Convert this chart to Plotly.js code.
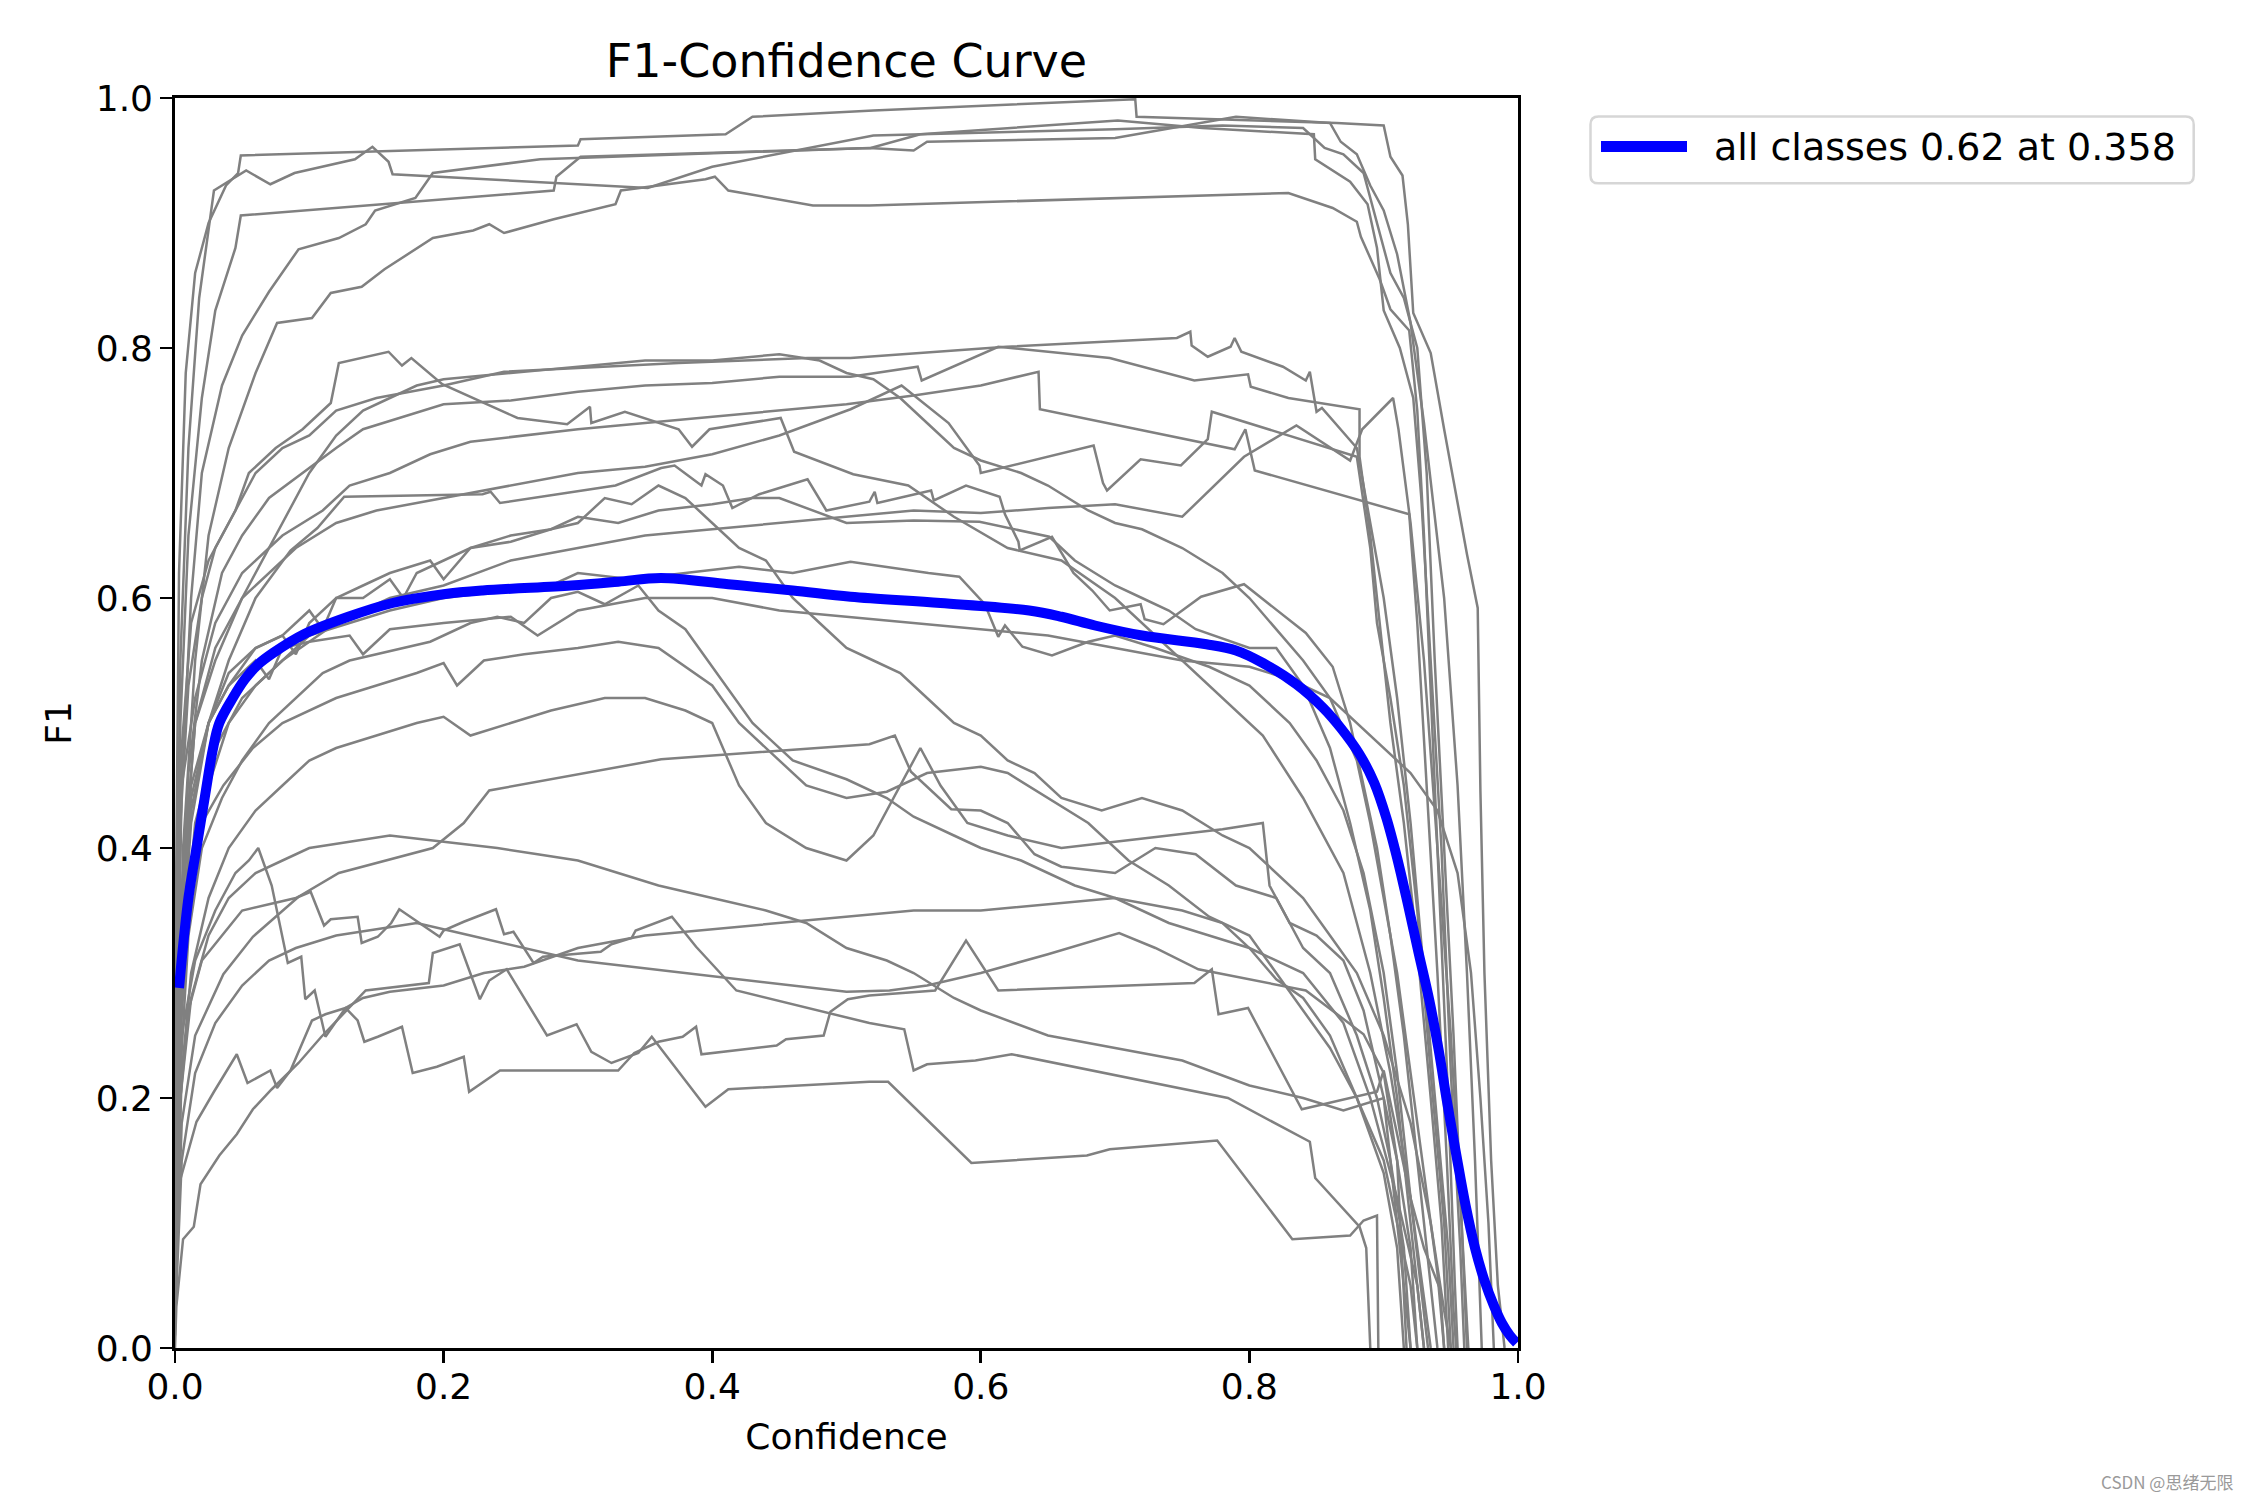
<!DOCTYPE html>
<html>
<head>
<meta charset="utf-8">
<script src="https://cdn.plot.ly/plotly-3.0.1.min.js"></script>
<style>html,body{margin:0;padding:0;background:#fff;}#chart{width:2250px;height:1500px;}</style>
</head>
<body>
<div id="chart"></div>
<script>
// ---------- DATA ----------
const xTickVals = [0, 0.2, 0.4, 0.6, 0.8, 1.0];
const xTickText = ['0.0', '0.2', '0.4', '0.6', '0.8', '1.0'];
const yTickVals = [0, 0.2, 0.4, 0.6, 0.8, 1.0];
const yTickText = ['0.0', '0.2', '0.4', '0.6', '0.8', '1.0'];
const legendLabel = 'all classes 0.62 at 0.358';

// per-class F1 curves: [confidence, F1]
const c01 = [[0,0.28],[0.003,0.62],[0.008,0.78],[0.015,0.86],[0.025,0.9],[0.038,0.93],[0.047,0.94],[0.049,0.954],[0.30,0.962],[0.302,0.967],[0.41,0.971],[0.43,0.985],[0.52,0.99],[0.715,0.999],[0.716,0.985],[0.865,0.980],[0.90,0.978],[0.905,0.953],[0.914,0.938],[0.918,0.899],[0.922,0.828],[0.935,0.796],[0.945,0.735],[0.953,0.688],[0.962,0.635],[0.970,0.592],[0.972,0.446],[0.975,0.3],[0.98,0.15],[0.985,0.05],[0.99,0]];
const c02 = [[0,0.22],[0.004,0.55],[0.01,0.72],[0.018,0.84],[0.029,0.926],[0.053,0.942],[0.071,0.931],[0.089,0.94],[0.134,0.951],[0.147,0.961],[0.159,0.949],[0.162,0.939],[0.352,0.928],[0.40,0.945],[0.52,0.97],[0.70,0.975],[0.78,0.978],[0.84,0.976],[0.856,0.96],[0.87,0.955],[0.885,0.94],[0.895,0.9],[0.905,0.86],[0.915,0.84],[0.925,0.8],[0.932,0.7],[0.938,0.55],[0.945,0.4],[0.952,0.25],[0.958,0.1],[0.962,0]];
const c03 = [[0,0.18],[0.004,0.5],[0.01,0.65],[0.02,0.76],[0.03,0.83],[0.045,0.88],[0.049,0.906],[0.282,0.926],[0.284,0.937],[0.302,0.953],[0.518,0.96],[0.555,0.971],[0.702,0.982],[0.765,0.976],[0.848,0.971],[0.849,0.951],[0.875,0.933],[0.888,0.915],[0.895,0.88],[0.9,0.83],[0.912,0.8],[0.922,0.76],[0.928,0.68],[0.935,0.55],[0.943,0.4],[0.95,0.22],[0.957,0.08],[0.96,0]];
const c04 = [[0,0.15],[0.005,0.45],[0.012,0.6],[0.02,0.7],[0.035,0.77],[0.05,0.81],[0.07,0.845],[0.092,0.879],[0.122,0.888],[0.142,0.899],[0.149,0.910],[0.179,0.920],[0.192,0.940],[0.272,0.951],[0.517,0.960],[0.55,0.958],[0.56,0.965],[0.70,0.968],[0.79,0.985],[0.86,0.98],[0.868,0.965],[0.88,0.955],[0.89,0.93],[0.9,0.91],[0.91,0.875],[0.92,0.82],[0.93,0.74],[0.945,0.6],[0.955,0.45],[0.962,0.3],[0.968,0.15],[0.973,0]];
const c05 = [[0,0.12],[0.006,0.4],[0.015,0.55],[0.025,0.65],[0.04,0.72],[0.06,0.78],[0.076,0.820],[0.102,0.824],[0.116,0.844],[0.139,0.849],[0.156,0.863],[0.192,0.888],[0.222,0.894],[0.234,0.899],[0.245,0.892],[0.282,0.903],[0.328,0.915],[0.332,0.926],[0.395,0.935],[0.402,0.937],[0.412,0.926],[0.475,0.914],[0.517,0.914],[0.829,0.924],[0.862,0.912],[0.880,0.901],[0.883,0.889],[0.897,0.855],[0.905,0.831],[0.919,0.814],[0.925,0.75],[0.93,0.65],[0.936,0.5],[0.942,0.35],[0.948,0.2],[0.953,0.05],[0.955,0]];
const c06 = [[0,0.1],[0.004,0.42],[0.01,0.53],[0.02,0.6],[0.03,0.64],[0.045,0.67],[0.055,0.7],[0.075,0.72],[0.095,0.735],[0.11,0.75],[0.116,0.756],[0.122,0.788],[0.159,0.797],[0.169,0.786],[0.176,0.792],[0.199,0.771],[0.255,0.744],[0.292,0.739],[0.309,0.753],[0.310,0.740],[0.335,0.749],[0.375,0.735],[0.385,0.721],[0.398,0.735],[0.451,0.744],[0.461,0.717],[0.505,0.699],[0.546,0.690],[0.58,0.665],[0.62,0.64],[0.66,0.63],[0.7,0.6],[0.74,0.56],[0.78,0.52],[0.81,0.49],[0.84,0.44],[0.87,0.38],[0.89,0.3],[0.905,0.22],[0.92,0.12],[0.93,0.04],[0.935,0]];
const c07 = [[0,0.2],[0.005,0.48],[0.012,0.58],[0.025,0.63],[0.04,0.66],[0.06,0.7],[0.08,0.72],[0.1,0.73],[0.12,0.75],[0.15,0.76],[0.2,0.77],[0.245,0.781],[0.375,0.788],[0.471,0.792],[0.503,0.792],[0.619,0.801],[0.746,0.808],[0.756,0.813],[0.757,0.802],[0.769,0.793],[0.786,0.801],[0.789,0.808],[0.794,0.797],[0.825,0.785],[0.842,0.774],[0.845,0.781],[0.850,0.749],[0.854,0.752],[0.880,0.720],[0.89,0.66],[0.9,0.6],[0.91,0.52],[0.92,0.42],[0.93,0.3],[0.94,0.18],[0.948,0.08],[0.952,0]];
const c08 = [[0,0.06],[0.003,0.3],[0.01,0.46],[0.02,0.55],[0.035,0.62],[0.05,0.65],[0.07,0.68],[0.095,0.70],[0.12,0.72],[0.14,0.735],[0.17,0.745],[0.2,0.755],[0.25,0.758],[0.3,0.765],[0.35,0.77],[0.4,0.772],[0.45,0.777],[0.503,0.777],[0.553,0.785],[0.556,0.774],[0.613,0.801],[0.696,0.792],[0.759,0.774],[0.799,0.779],[0.801,0.769],[0.829,0.760],[0.882,0.751],[0.882,0.713],[0.89,0.65],[0.9,0.55],[0.905,0.5],[0.915,0.42],[0.925,0.32],[0.935,0.2],[0.943,0.1],[0.948,0]];
const c09 = [[0,0.25],[0.005,0.45],[0.015,0.52],[0.03,0.58],[0.05,0.62],[0.08,0.65],[0.11,0.67],[0.13,0.69],[0.16,0.70],[0.19,0.715],[0.22,0.725],[0.26,0.73],[0.3,0.735],[0.35,0.74],[0.4,0.745],[0.45,0.75],[0.5,0.755],[0.55,0.762],[0.6,0.77],[0.643,0.781],[0.644,0.751],[0.789,0.719],[0.797,0.735],[0.804,0.702],[0.919,0.667],[0.925,0.58],[0.932,0.45],[0.94,0.3],[0.947,0.15],[0.952,0.03],[0.954,0]];
const c10 = [[0,0.08],[0.006,0.38],[0.015,0.5],[0.03,0.55],[0.05,0.6],[0.07,0.62],[0.09,0.64],[0.12,0.66],[0.15,0.67],[0.2,0.68],[0.25,0.69],[0.3,0.70],[0.35,0.705],[0.4,0.715],[0.45,0.73],[0.503,0.751],[0.541,0.770],[0.576,0.740],[0.599,0.706],[0.60,0.70],[0.684,0.722],[0.691,0.692],[0.694,0.686],[0.719,0.711],[0.749,0.706],[0.769,0.727],[0.772,0.749],[0.880,0.713],[0.89,0.64],[0.895,0.58],[0.905,0.52],[0.915,0.45],[0.925,0.35],[0.935,0.22],[0.945,0.1],[0.95,0]];
const c11 = [[0,0.05],[0.005,0.3],[0.015,0.42],[0.03,0.48],[0.05,0.52],[0.08,0.55],[0.12,0.58],[0.16,0.6],[0.2,0.61],[0.25,0.63],[0.3,0.64],[0.35,0.65],[0.4,0.655],[0.45,0.66],[0.5,0.665],[0.55,0.67],[0.6,0.668],[0.65,0.672],[0.7,0.675],[0.75,0.665],[0.796,0.713],[0.835,0.738],[0.875,0.71],[0.880,0.724],[0.884,0.735],[0.907,0.760],[0.911,0.735],[0.92,0.66],[0.93,0.55],[0.94,0.4],[0.95,0.25],[0.958,0.1],[0.963,0]];
const c12 = [[0,0.04],[0.004,0.3],[0.012,0.42],[0.025,0.5],[0.04,0.55],[0.06,0.6],[0.086,0.638],[0.106,0.656],[0.126,0.681],[0.229,0.683],[0.235,0.685],[0.242,0.676],[0.328,0.690],[0.362,0.704],[0.372,0.706],[0.392,0.690],[0.395,0.699],[0.408,0.690],[0.415,0.672],[0.435,0.683],[0.471,0.695],[0.485,0.670],[0.517,0.677],[0.521,0.685],[0.523,0.676],[0.563,0.686],[0.565,0.678],[0.589,0.690],[0.614,0.681],[0.618,0.667],[0.628,0.645],[0.629,0.638],[0.653,0.649],[0.669,0.620],[0.683,0.606],[0.696,0.590],[0.719,0.595],[0.722,0.583],[0.736,0.579],[0.764,0.601],[0.796,0.611],[0.842,0.572],[0.862,0.545],[0.875,0.5],[0.885,0.45],[0.895,0.4],[0.905,0.33],[0.915,0.25],[0.925,0.15],[0.935,0.05],[0.94,0]];
const c13 = [[0,0.1],[0.005,0.35],[0.012,0.45],[0.025,0.5],[0.04,0.53],[0.06,0.56],[0.08,0.57],[0.1,0.59],[0.11,0.575],[0.12,0.6],[0.14,0.6],[0.16,0.615],[0.17,0.6],[0.18,0.62],[0.2,0.63],[0.22,0.64],[0.25,0.65],[0.28,0.655],[0.3,0.665],[0.33,0.66],[0.36,0.67],[0.4,0.675],[0.43,0.68],[0.45,0.68],[0.5,0.66],[0.55,0.662],[0.599,0.661],[0.651,0.649],[0.67,0.63],[0.7,0.61],[0.72,0.6],[0.74,0.59],[0.76,0.575],[0.8,0.56],[0.82,0.56],[0.84,0.53],[0.86,0.48],[0.875,0.42],[0.89,0.35],[0.9,0.28],[0.91,0.2],[0.92,0.1],[0.93,0]];
const c14 = [[0,0.03],[0.004,0.25],[0.012,0.38],[0.025,0.45],[0.04,0.5],[0.06,0.53],[0.08,0.55],[0.1,0.57],[0.13,0.58],[0.16,0.59],[0.2,0.6],[0.24,0.605],[0.28,0.61],[0.3,0.62],[0.34,0.615],[0.38,0.62],[0.42,0.625],[0.46,0.62],[0.503,0.629],[0.561,0.620],[0.584,0.617],[0.603,0.595],[0.613,0.569],[0.618,0.578],[0.631,0.561],[0.653,0.554],[0.68,0.565],[0.7,0.57],[0.73,0.56],[0.77,0.545],[0.8,0.53],[0.83,0.5],[0.85,0.47],[0.87,0.43],[0.885,0.38],[0.9,0.3],[0.91,0.22],[0.92,0.12],[0.93,0.03],[0.933,0]];
const c15 = [[0,0.02],[0.004,0.22],[0.01,0.33],[0.02,0.4],[0.035,0.44],[0.05,0.47],[0.07,0.5],[0.09,0.52],[0.11,0.54],[0.13,0.55],[0.15,0.555],[0.17,0.56],[0.19,0.565],[0.22,0.58],[0.24,0.585],[0.26,0.58],[0.28,0.6],[0.3,0.605],[0.32,0.595],[0.345,0.61],[0.36,0.59],[0.38,0.575],[0.41,0.53],[0.43,0.5],[0.46,0.47],[0.5,0.455],[0.53,0.44],[0.55,0.425],[0.58,0.41],[0.6,0.4],[0.63,0.39],[0.67,0.37],[0.7,0.36],[0.74,0.34],[0.77,0.33],[0.8,0.32],[0.84,0.3],[0.87,0.26],[0.89,0.2],[0.91,0.12],[0.925,0.05],[0.93,0]];
const c16 = [[0,0.04],[0.005,0.28],[0.012,0.37],[0.02,0.42],[0.036,0.45],[0.058,0.48],[0.08,0.5],[0.1,0.51],[0.12,0.52],[0.15,0.53],[0.18,0.54],[0.2,0.548],[0.21,0.53],[0.23,0.55],[0.26,0.555],[0.3,0.56],[0.33,0.565],[0.36,0.56],[0.38,0.545],[0.4,0.53],[0.42,0.5],[0.45,0.47],[0.47,0.45],[0.5,0.44],[0.53,0.445],[0.56,0.46],[0.6,0.465],[0.62,0.46],[0.65,0.44],[0.68,0.42],[0.71,0.39],[0.74,0.37],[0.77,0.345],[0.8,0.33],[0.82,0.3],[0.84,0.27],[0.86,0.24],[0.88,0.2],[0.9,0.15],[0.91,0.1],[0.92,0.05],[0.925,0]];
const c17 = [[0,0.03],[0.005,0.18],[0.015,0.25],[0.036,0.299],[0.058,0.329],[0.092,0.361],[0.122,0.380],[0.192,0.400],[0.215,0.420],[0.234,0.446],[0.362,0.471],[0.517,0.483],[0.536,0.490],[0.548,0.461],[0.578,0.431],[0.6,0.43],[0.62,0.42],[0.64,0.395],[0.66,0.385],[0.7,0.38],[0.73,0.4],[0.76,0.395],[0.79,0.37],[0.82,0.36],[0.84,0.32],[0.86,0.3],[0.88,0.25],[0.895,0.2],[0.905,0.15],[0.915,0.08],[0.92,0]];
const c18 = [[0,0.0],[0.001,0.033],[0.006,0.087],[0.014,0.097],[0.019,0.131],[0.033,0.154],[0.046,0.171],[0.058,0.191],[0.072,0.207],[0.092,0.228],[0.109,0.249],[0.129,0.271],[0.142,0.286],[0.189,0.292],[0.192,0.316],[0.212,0.323],[0.227,0.279],[0.234,0.294],[0.247,0.303],[0.277,0.250],[0.299,0.259],[0.310,0.237],[0.325,0.228],[0.345,0.236],[0.355,0.249],[0.395,0.193],[0.412,0.207],[0.517,0.213],[0.531,0.213],[0.593,0.148],[0.679,0.154],[0.696,0.159],[0.776,0.166],[0.832,0.087],[0.875,0.090],[0.885,0.102],[0.895,0.106],[0.896,0]];
const c19 = [[0,0.05],[0.003,0.131],[0.016,0.181],[0.029,0.205],[0.046,0.235],[0.054,0.212],[0.071,0.222],[0.076,0.208],[0.086,0.222],[0.102,0.262],[0.112,0.267],[0.127,0.272],[0.136,0.262],[0.141,0.245],[0.151,0.249],[0.169,0.257],[0.177,0.220],[0.195,0.225],[0.215,0.233],[0.219,0.205],[0.242,0.222],[0.33,0.222],[0.342,0.236],[0.36,0.245],[0.378,0.249],[0.388,0.257],[0.392,0.235],[0.448,0.242],[0.455,0.247],[0.483,0.250],[0.488,0.269],[0.501,0.279],[0.517,0.282],[0.566,0.286],[0.589,0.326],[0.613,0.286],[0.759,0.292],[0.772,0.303],[0.777,0.267],[0.799,0.272],[0.839,0.191],[0.895,0.205],[0.900,0.222],[0.91,0.17],[0.92,0.12],[0.93,0.08],[0.942,0.047],[0.945,0]];
const c20 = [[0,0.02],[0.004,0.2],[0.01,0.27],[0.02,0.31],[0.035,0.33],[0.05,0.35],[0.07,0.355],[0.09,0.36],[0.101,0.365],[0.111,0.338],[0.116,0.343],[0.136,0.345],[0.139,0.324],[0.151,0.329],[0.161,0.340],[0.167,0.351],[0.197,0.329],[0.200,0.334],[0.215,0.341],[0.239,0.351],[0.245,0.331],[0.252,0.333],[0.267,0.308],[0.274,0.313],[0.317,0.317],[0.325,0.323],[0.340,0.328],[0.343,0.334],[0.370,0.345],[0.388,0.321],[0.418,0.286],[0.517,0.260],[0.543,0.255],[0.550,0.222],[0.560,0.227],[0.596,0.230],[0.623,0.235],[0.683,0.222],[0.784,0.200],[0.845,0.165],[0.849,0.136],[0.882,0.097],[0.887,0.08],[0.89,0]];
const c21 = [[0,0.1],[0.005,0.25],[0.015,0.31],[0.03,0.35],[0.045,0.38],[0.055,0.39],[0.062,0.400],[0.072,0.370],[0.084,0.308],[0.094,0.313],[0.097,0.279],[0.104,0.286],[0.112,0.249],[0.127,0.272],[0.14,0.28],[0.16,0.285],[0.2,0.29],[0.23,0.3],[0.26,0.305],[0.3,0.32],[0.35,0.33],[0.4,0.335],[0.45,0.34],[0.5,0.345],[0.55,0.35],[0.6,0.35],[0.65,0.355],[0.7,0.36],[0.75,0.35],[0.78,0.34],[0.8,0.32],[0.82,0.295],[0.84,0.28],[0.86,0.25],[0.88,0.2],[0.9,0.14],[0.91,0.08],[0.915,0]];
const c22 = [[0,0.01],[0.004,0.2],[0.012,0.28],[0.025,0.33],[0.04,0.36],[0.06,0.38],[0.08,0.39],[0.1,0.4],[0.13,0.405],[0.16,0.41],[0.2,0.405],[0.24,0.4],[0.27,0.395],[0.3,0.39],[0.33,0.38],[0.36,0.37],[0.4,0.36],[0.44,0.35],[0.47,0.34],[0.5,0.32],[0.53,0.31],[0.55,0.3],[0.58,0.28],[0.6,0.27],[0.65,0.25],[0.7,0.24],[0.75,0.23],[0.8,0.21],[0.84,0.2],[0.87,0.19],[0.9,0.2],[0.91,0.15],[0.915,0.05],[0.917,0]];
const c23 = [[0,0.04],[0.005,0.22],[0.012,0.3],[0.025,0.36],[0.04,0.4],[0.06,0.43],[0.08,0.45],[0.1,0.47],[0.12,0.48],[0.15,0.49],[0.18,0.5],[0.2,0.505],[0.22,0.49],[0.25,0.5],[0.28,0.51],[0.32,0.52],[0.35,0.52],[0.38,0.51],[0.4,0.5],[0.42,0.45],[0.44,0.42],[0.47,0.4],[0.5,0.39],[0.52,0.41],[0.54,0.45],[0.555,0.48],[0.57,0.45],[0.59,0.42],[0.62,0.41],[0.66,0.4],[0.7,0.405],[0.74,0.41],[0.78,0.415],[0.81,0.42],[0.815,0.37],[0.83,0.34],[0.85,0.33],[0.87,0.31],[0.885,0.27],[0.9,0.2],[0.91,0.1],[0.92,0]];
const c24 = [[0,0.02],[0.005,0.15],[0.015,0.22],[0.03,0.26],[0.05,0.29],[0.07,0.31],[0.09,0.32],[0.12,0.33],[0.15,0.335],[0.18,0.34],[0.22,0.33],[0.26,0.32],[0.3,0.31],[0.34,0.305],[0.38,0.3],[0.42,0.295],[0.46,0.29],[0.5,0.285],[0.532,0.286],[0.56,0.29],[0.6,0.3],[0.65,0.315],[0.703,0.332],[0.73,0.32],[0.762,0.303],[0.8,0.295],[0.842,0.286],[0.885,0.251],[0.9,0.22],[0.91,0.15],[0.92,0.08],[0.925,0]];
const c25 = [[0,0.05],[0.004,0.3],[0.012,0.43],[0.025,0.5],[0.04,0.54],[0.06,0.56],[0.08,0.57],[0.09,0.555],[0.1,0.58],[0.12,0.6],[0.14,0.61],[0.16,0.62],[0.19,0.63],[0.2,0.615],[0.22,0.64],[0.25,0.645],[0.28,0.655],[0.3,0.66],[0.32,0.68],[0.34,0.675],[0.36,0.69],[0.38,0.68],[0.4,0.66],[0.42,0.64],[0.44,0.63],[0.46,0.6],[0.48,0.58],[0.5,0.56],[0.52,0.55],[0.54,0.54],[0.56,0.52],[0.58,0.5],[0.6,0.49],[0.62,0.47],[0.64,0.46],[0.66,0.44],[0.69,0.43],[0.72,0.44],[0.75,0.43],[0.78,0.41],[0.8,0.4],[0.82,0.38],[0.84,0.36],[0.86,0.33],[0.88,0.3],[0.9,0.25],[0.92,0.18],[0.935,0.1],[0.945,0.03],[0.95,0]];
const c26 = [[0,0.08],[0.004,0.35],[0.015,0.5],[0.03,0.56],[0.05,0.6],[0.08,0.66],[0.1,0.7],[0.12,0.73],[0.14,0.75],[0.16,0.76],[0.18,0.77],[0.2,0.775],[0.25,0.78],[0.3,0.785],[0.35,0.79],[0.4,0.79],[0.45,0.795],[0.48,0.79],[0.5,0.78],[0.52,0.775],[0.54,0.76],[0.56,0.74],[0.58,0.72],[0.6,0.71],[0.63,0.7],[0.65,0.69],[0.68,0.67],[0.7,0.66],[0.72,0.655],[0.75,0.64],[0.78,0.62],[0.8,0.6],[0.82,0.575],[0.84,0.55],[0.86,0.52],[0.88,0.47],[0.89,0.42],[0.9,0.36],[0.91,0.3],[0.92,0.22],[0.93,0.14],[0.94,0.06],[0.945,0]];
const c27 = [[0,0.08],[0.005,0.35],[0.012,0.44],[0.025,0.5],[0.04,0.53],[0.06,0.55],[0.07,0.535],[0.08,0.56],[0.1,0.565],[0.13,0.57],[0.14,0.555],[0.16,0.575],[0.2,0.58],[0.25,0.585],[0.27,0.57],[0.3,0.59],[0.35,0.6],[0.4,0.6],[0.45,0.59],[0.5,0.585],[0.55,0.58],[0.6,0.575],[0.65,0.57],[0.7,0.56],[0.75,0.55],[0.8,0.545],[0.83,0.535],[0.86,0.52],[0.88,0.5],[0.9,0.48],[0.92,0.46],[0.94,0.43],[0.955,0.38],[0.965,0.3],[0.972,0.2],[0.978,0.1],[0.982,0]];

// mean curve over all classes
const allClasses = [[0.003,0.288],[0.010,0.36],[0.016,0.40],[0.023,0.446],[0.028,0.478],[0.033,0.500],[0.043,0.520],[0.052,0.535],[0.062,0.547],[0.073,0.556],[0.096,0.571],[0.129,0.585],[0.162,0.596],[0.2,0.603],[0.229,0.606],[0.295,0.610],[0.33,0.613],[0.362,0.616],[0.412,0.611],[0.46,0.606],[0.503,0.601],[0.57,0.596],[0.636,0.590],[0.66,0.585],[0.685,0.578],[0.72,0.570],[0.768,0.563],[0.79,0.558],[0.81,0.548],[0.835,0.531],[0.855,0.512],[0.868,0.496],[0.882,0.475],[0.893,0.452],[0.902,0.424],[0.91,0.392],[0.918,0.355],[0.926,0.316],[0.934,0.278],[0.941,0.238],[0.947,0.198],[0.954,0.155],[0.961,0.114],[0.968,0.08],[0.975,0.054],[0.982,0.034],[0.988,0.020],[0.994,0.01],[0.999,0.004]];

const classCurves = [c01,c02,c03,c04,c05,c06,c07,c08,c09,c10,c11,c12,c13,c14,c15,c16,c17,c18,c19,c20,c21,c22,c23,c24,c25,c26,c27];

// ---------- FIGURE ----------
const W = 2250, H = 1500;
const L = 175, R = 1518, T = 97.6, B = 1348;
const px = X => (X - L) / (R - L);
const py = Y => (B - Y) / (B - T);
const FONT = 'DejaVu Sans, Liberation Sans, sans-serif';

const traces = classCurves.map(c => ({
  x: c.map(p => p[0]), y: c.map(p => p[1]),
  type: 'scatter', mode: 'lines',
  line: {color: '#808080', width: 2.5},
  hoverinfo: 'skip', showlegend: false
}));
traces.push({
  x: allClasses.map(p => p[0]), y: allClasses.map(p => p[1]),
  type: 'scatter', mode: 'lines', name: legendLabel,
  line: {color: '#0000ff', width: 10, shape: 'spline', smoothing: 1},
  showlegend: false
});

// legend box (rounded) drawn in paper coordinates
const bx0 = px(1590.5), bx1 = px(2193.7), by0 = py(183), by1 = py(116);
const rx = 8 / (R - L), ry = 8 / (B - T);
const boxPath = `M ${bx0+rx},${by0} L ${bx1-rx},${by0} Q ${bx1},${by0} ${bx1},${by0+ry} L ${bx1},${by1-ry} Q ${bx1},${by1} ${bx1-rx},${by1} L ${bx0+rx},${by1} Q ${bx0},${by1} ${bx0},${by1-ry} L ${bx0},${by0+ry} Q ${bx0},${by0} ${bx0+rx},${by0} Z`;

const layout = {
  width: W, height: H, autosize: false,
  paper_bgcolor: '#ffffff', plot_bgcolor: '#ffffff',
  margin: {l: L, r: W - R, t: T, b: H - B, pad: 0},
  font: {family: FONT, color: '#000000', size: 36},
  title: {text: 'F1-Confidence Curve', font: {family: FONT, size: 46, color: '#000'},
          x: px((L + R) / 2), xref: 'paper', xanchor: 'center', y: 1 - 61 / H, yref: 'container', yanchor: 'middle'},
  xaxis: {
    range: [0, 1], tickmode: 'array', tickvals: xTickVals, ticktext: xTickText,
    ticks: 'outside', ticklen: 12, tickwidth: 2.8, tickcolor: '#000', ticklabelstandoff: -7,
    showline: true, linecolor: '#000', linewidth: 2.8, mirror: true,
    showgrid: false, zeroline: false, tickfont: {family: FONT, size: 36, color: '#000'},
    title: {text: 'Confidence', font: {family: FONT, size: 36, color: '#000'}, standoff: 18}
  },
  yaxis: {
    range: [0, 1], tickmode: 'array', tickvals: yTickVals, ticktext: yTickText,
    ticks: 'outside', ticklen: 12, tickwidth: 2.8, tickcolor: '#000',
    showline: true, linecolor: '#000', linewidth: 2.8, mirror: true,
    showgrid: false, zeroline: false, tickfont: {family: FONT, size: 36, color: '#000'},
    title: {text: 'F1', font: {family: FONT, size: 36, color: '#000'}, standoff: 14}
  },
  shapes: [
    {type: 'path', xref: 'paper', yref: 'paper', path: boxPath,
     line: {color: '#d6d6d6', width: 2.5}, fillcolor: 'rgba(255,255,255,0.8)', layer: 'above'},
    {type: 'line', xref: 'paper', yref: 'paper', x0: px(1601), x1: px(1687), y0: py(146), y1: py(146),
     line: {color: '#0000ff', width: 11}, layer: 'above'}
  ],
  annotations: [
    {xref: 'paper', yref: 'paper', x: px(1712), y: py(147), xanchor: 'left', yanchor: 'middle',
     text: legendLabel, showarrow: false, font: {family: FONT, size: 38, color: '#000'}},
    {xref: 'paper', yref: 'paper', x: px(2235), y: py(1482), xanchor: 'right', yanchor: 'middle',
     text: 'CSDN @思绪无限', showarrow: false,
     font: {family: 'Noto Sans CJK SC, sans-serif', size: 17, color: '#9a9a9a'}}
  ]
};

Plotly.newPlot('chart', traces, layout, {displayModeBar: false, staticPlot: true});
</script>
</body>
</html>
